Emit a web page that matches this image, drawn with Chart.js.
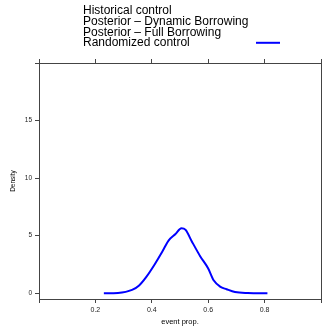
<!DOCTYPE html>
<html>
<head>
<meta charset="utf-8">
<script src="https://cdn.jsdelivr.net/npm/chart.js@4/dist/chart.umd.min.js"></script>
<style>
  html, body { margin: 0; padding: 0; background: #fff; }
  #wrap { width: 324px; height: 326px; }
</style>
</head>
<body>
<div id="wrap"><canvas id="densityChart" width="324" height="326"></canvas></div>
<script>
// legend entries (only the randomized control has a visible curve)
var legendLabels = ["Historical control", "Posterior \u2013 Dynamic Borrowing", "Posterior \u2013 Full Borrowing", "Randomized control"];
var legendColors = [null, null, null, "#0000ff"];

// randomized control density
var eventProp = [0.23, 0.28, 0.33, 0.355, 0.38, 0.41, 0.437, 0.46, 0.484, 0.505, 0.52, 0.542, 0.572, 0.6, 0.62, 0.642, 0.665, 0.695, 0.74, 0.81];
var density   = [0, 0.03, 0.29, 0.68, 1.4, 2.5, 3.6, 4.6, 5.15, 5.65, 5.5, 4.5, 3.2, 2.15, 1.1, 0.58, 0.35, 0.1, 0.02, 0];

var xTicks = [0, 0.2, 0.4, 0.6, 0.8, 1.0];
var xTickLabels = ["", "0.2", "0.4", "0.6", "0.8", ""];
var yTicks = [0, 5, 10, 15, 20];
var yTickLabels = ["0", "5", "10", "15", ""];

var axisColor = "#444";

var points = eventProp.map(function (x, i) { return { x: x, y: density[i] }; });

// lattice style key drawn above the panel
var keyPlugin = {
    id: 'latticeKey',
    afterDraw: function (chart) {
        var ctx = chart.ctx;
        ctx.save();
        ctx.font = '12px "Liberation Sans", Arial, sans-serif';
        ctx.fillStyle = '#000';
        ctx.textBaseline = 'middle';
        for (var i = 0; i < legendLabels.length; i++) {
            var y = 11 + i * 10.6;
            ctx.fillText(legendLabels[i], 83, y);
            if (legendColors[i]) {
                ctx.strokeStyle = legendColors[i];
                ctx.lineWidth = 2;
                ctx.beginPath();
                ctx.moveTo(256, y);
                ctx.lineTo(280, y);
                ctx.stroke();
            }
        }
        ctx.restore();
    }
};

function fixedTicks(list) {
    return function (scale) {
        scale.ticks = list.map(function (v) { return { value: v }; });
    };
}

var ctx = document.getElementById("densityChart");
var myChart = new Chart(ctx, {
    type: 'line',
    data: {
        datasets: [{
            label: legendLabels[3],
            data: points,
            borderColor: '#0000ff',
            borderWidth: 2,
            pointRadius: 0,
            fill: false,
            cubicInterpolationMode: 'monotone'
        }]
    },
    options: {
        responsive: false,
        animation: false,
        layout: { padding: { left: 0, right: 0, top: 59, bottom: 0 } },
        plugins: {
            legend: { display: false },
            tooltip: { enabled: false }
        },
        scales: {
            x: {
                type: 'linear',
                position: 'bottom',
                min: 0,
                max: 1,
                afterBuildTicks: fixedTicks(xTicks),
                afterFit: function (scale) { scale.height = 27; },
                grid: { drawOnChartArea: false, drawTicks: true, tickLength: 4, color: axisColor },
                border: { display: true, color: axisColor, width: 1 },
                ticks: {
                    padding: 3,
                    maxRotation: 0,
                    autoSkip: false,
                    color: '#222',
                    font: { family: '"Liberation Sans", Arial, sans-serif', size: 7 },
                    callback: function (v, i) { return xTickLabels[i]; }
                },
                title: {
                    display: true,
                    text: 'event prop.',
                    color: '#000',
                    padding: { top: 0, bottom: 0 },
                    font: { family: '"Liberation Sans", Arial, sans-serif', size: 7.5 }
                }
            },
            x2: {
                type: 'linear',
                position: 'top',
                min: 0,
                max: 1,
                afterBuildTicks: fixedTicks(xTicks),
                afterFit: function (scale) { scale.height = 4; },
                grid: { drawOnChartArea: false, drawTicks: true, tickLength: 4, color: axisColor },
                border: { display: true, color: axisColor, width: 1 },
                ticks: { display: false }
            },
            y: {
                type: 'linear',
                position: 'left',
                min: -0.5,
                max: 20,
                afterBuildTicks: fixedTicks(yTicks),
                afterFit: function (scale) { scale.width = 39; },
                grid: { drawOnChartArea: false, drawTicks: true, tickLength: 4, color: axisColor },
                border: { display: true, color: axisColor, width: 1 },
                ticks: {
                    padding: 3,
                    autoSkip: false,
                    color: '#222',
                    font: { family: '"Liberation Sans", Arial, sans-serif', size: 6.5 },
                    callback: function (v, i) { return yTickLabels[i]; }
                },
                title: {
                    display: true,
                    text: 'Density',
                    color: '#000',
                    padding: { top: 9, bottom: 0 },
                    font: { family: '"Liberation Sans", Arial, sans-serif', size: 6.5 }
                }
            },
            y2: {
                type: 'linear',
                position: 'right',
                min: -0.5,
                max: 20,
                afterFit: function (scale) { scale.width = 1; },
                grid: { drawOnChartArea: false, drawTicks: false, color: axisColor },
                border: { display: true, color: axisColor, width: 1 },
                ticks: { display: false }
            }
        }
    },
    plugins: [keyPlugin]
});
</script>
</body>
</html>
